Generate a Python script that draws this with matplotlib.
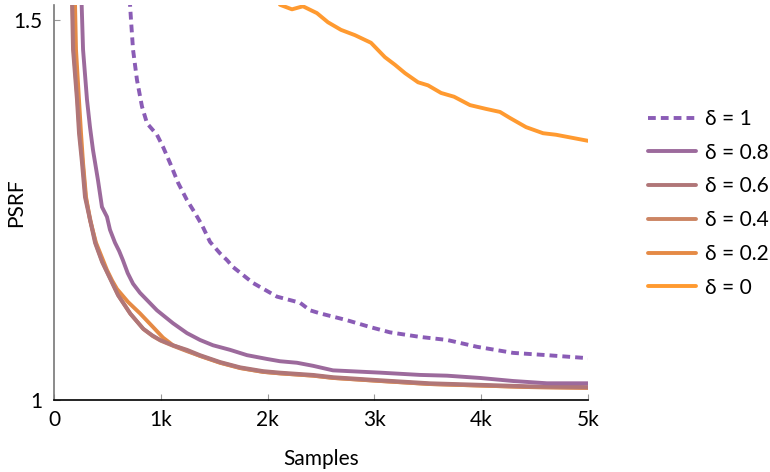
import matplotlib; matplotlib.use('Agg')
import matplotlib.pyplot as plt

# values
labels = ['δ = 1', 'δ = 0.8', 'δ = 0.6', 'δ = 0.4', 'δ = 0.2', 'δ = 0']
colors = ['#8a5cb6', '#9c6a9c', '#b07678', '#cc8563', '#e58a45', '#ff9a30']

d10_x = [690, 712, 721, 740, 777, 824, 871, 964, 1021, 1086, 1161, 1245, 1320, 1386, 1461, 1554, 1620,
         1676, 1863, 2088, 2303, 2397, 2491, 2743, 2959, 3146, 3427, 3680, 3961, 4298, 4616, 5000]
d10_y = [1.56, 1.520, 1.500, 1.461, 1.421, 1.386, 1.364, 1.349, 1.333, 1.312, 1.286, 1.263, 1.246, 1.230,
         1.208, 1.193, 1.184, 1.175, 1.154, 1.136, 1.128, 1.118, 1.114, 1.105, 1.096, 1.089, 1.083, 1.079,
         1.070, 1.062, 1.059, 1.055]

d08_x = [250, 259, 272, 309, 337, 365, 412, 449, 496, 524, 571, 610, 645, 690, 740, 805, 964, 1114, 1245,
         1367, 1489, 1648, 1807, 1994, 2116, 2275, 2425, 2612, 3052, 3427, 3680, 3989, 4298, 4616, 5000]
d08_y = [1.56, 1.520, 1.461, 1.395, 1.359, 1.329, 1.289, 1.254, 1.241, 1.224, 1.207, 1.196, 1.184, 1.167,
         1.153, 1.141, 1.118, 1.101, 1.088, 1.079, 1.072, 1.066, 1.059, 1.054, 1.051, 1.049, 1.045, 1.039,
         1.036, 1.033, 1.032, 1.029, 1.025, 1.022, 1.022]

d06_x = [160, 169, 178, 215, 234, 262, 290, 337, 384, 449, 524, 599, 712, 833, 920, 993, 1114, 1245, 1367,
         1554, 1742, 1957, 2116, 2425, 2612, 3052, 3521, 3989, 4457, 5000]
d06_y = [1.56, 1.520, 1.461, 1.395, 1.351, 1.312, 1.267, 1.237, 1.207, 1.182, 1.160, 1.138, 1.114, 1.094,
         1.085, 1.079, 1.072, 1.066, 1.059, 1.050, 1.043, 1.038, 1.036, 1.033, 1.030, 1.026, 1.022, 1.020,
         1.018, 1.017]

d04_x = [165, 174, 184, 220, 240, 268, 296, 342, 390, 455, 530, 605, 718, 840, 925, 1000, 1120, 1250, 1370,
         1560, 1750, 1960, 2120, 2430, 2620, 3060, 3520, 3990, 4460, 5000]
d04_y = [1.56, 1.520, 1.461, 1.395, 1.351, 1.312, 1.267, 1.236, 1.206, 1.181, 1.159, 1.137, 1.113, 1.093,
         1.084, 1.078, 1.071, 1.064, 1.058, 1.049, 1.042, 1.037, 1.035, 1.032, 1.029, 1.025, 1.021, 1.019,
         1.017, 1.016]

d02_x = [188, 197, 206, 234, 253, 272, 300, 337, 393, 459, 496, 545, 590, 693, 805, 927, 1021, 1114, 1245,
         1367, 1554, 1742, 1957, 2116, 2425, 2612, 3052, 3521, 3989, 4457, 5000]
d02_y = [1.56, 1.520, 1.461, 1.395, 1.351, 1.312, 1.267, 1.237, 1.207, 1.184, 1.171, 1.157, 1.146, 1.129,
         1.114, 1.096, 1.082, 1.072, 1.065, 1.058, 1.049, 1.042, 1.037, 1.035, 1.032, 1.029, 1.025, 1.021,
         1.019, 1.017, 1.016]

d00_x = [2050, 2116, 2228, 2331, 2462, 2565, 2687, 2818, 2968, 3099, 3193, 3287, 3409, 3502, 3624, 3746,
         3895, 4045, 4176, 4270, 4420, 4579, 4700, 5000]
d00_y = [1.56, 1.520, 1.514, 1.518, 1.509, 1.497, 1.487, 1.480, 1.470, 1.451, 1.441, 1.430, 1.418, 1.414,
         1.404, 1.399, 1.388, 1.383, 1.379, 1.371, 1.359, 1.351, 1.349, 1.341]

series = [(d10_x, d10_y), (d08_x, d08_y), (d06_x, d06_y), (d04_x, d04_y), (d02_x, d02_y), (d00_x, d00_y)]

xticks = [0, 1000, 2000, 3000, 4000, 5000]
xticklabels = ['0', '1k', '2k', '3k', '4k', '5k']
yticks = [1, 1.5]
yticklabels = ['1', '1.5']

plt.rcParams['font.family'] = ['Lato', 'DejaVu Sans']

fig = plt.figure(figsize=(7.7, 4.72), dpi=100)
ax = fig.add_axes([54/770, 1 - 400/472, 534/770, 395/472])

# draw bottom lines first, delta=1 dashed on top
handles = {}
for i in [5, 4, 3, 2, 1, 0]:
    x, y = series[i]
    if i == 0:
        ln, = ax.plot(x, y, color=colors[i], lw=2.8, dashes=(2.0, 1.3), dash_capstyle='butt')
    else:
        ln, = ax.plot(x, y, color=colors[i], lw=2.8, solid_capstyle='round', solid_joinstyle='round')
    handles[i] = ln

ax.set_xlim(0, 5000)
ax.set_ylim(1.0, 1.5197)
ax.set_xticks(xticks)
ax.set_xticklabels(xticklabels)
ax.set_yticks(yticks)
ax.set_yticklabels(yticklabels)
ax.tick_params(direction='in', length=4, color='#999999', labelsize=15, pad=7)
ax.tick_params(axis='y', pad=8)
for s in ['top', 'right']:
    ax.spines[s].set_visible(False)
ax.spines['left'].set_color('#777777')
ax.spines['bottom'].set_color('black')
ax.spines['left'].set_linewidth(1.2)
ax.spines['bottom'].set_linewidth(1.2)
ax.set_xlabel('Samples', fontsize=15, labelpad=14)
ax.set_ylabel('PSRF', fontsize=15)
ax.yaxis.set_label_coords(-0.052, 0.5)

ax.legend([handles[i] for i in range(6)], labels, loc='upper left', bbox_to_anchor=(648/770, 1 - 109/472),
          bbox_transform=fig.transFigure, frameon=False, fontsize=15, handlelength=2.3,
          handletextpad=0.45, labelspacing=0.66, borderpad=0, borderaxespad=0)

fig.savefig('out.png', dpi=100)
